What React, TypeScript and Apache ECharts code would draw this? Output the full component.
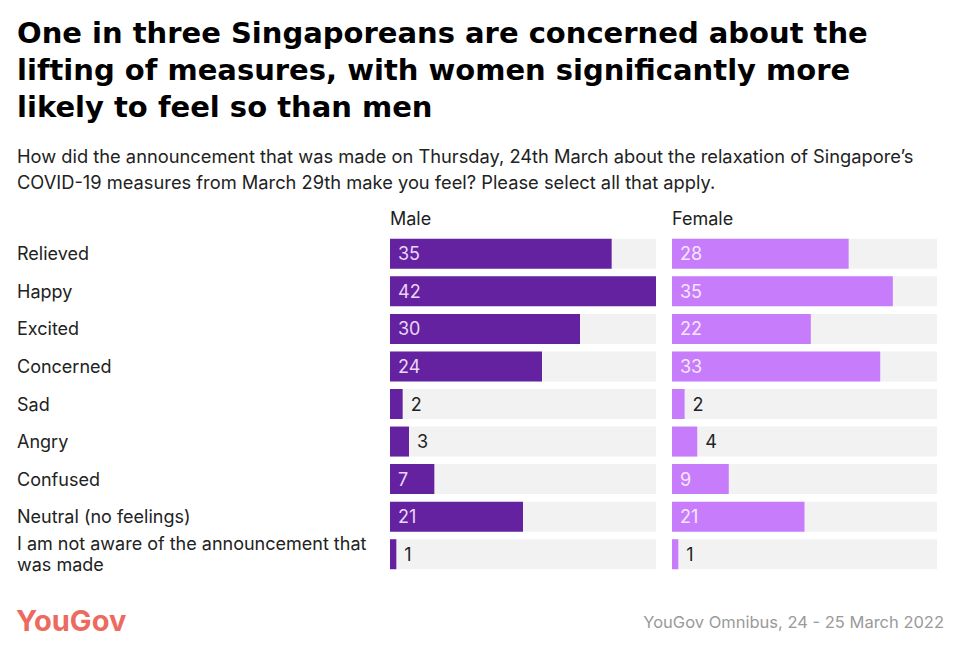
import React, { useEffect, useRef } from "react";
import * as echarts from "echarts";

const categories = [
  "Relieved",
  "Happy",
  "Excited",
  "Concerned",
  "Sad",
  "Angry",
  "Confused",
  "Neutral (no feelings)",
  "I am not aware of the announcement that was made",
];
const maleValues = [35, 42, 30, 24, 2, 3, 7, 21, 1];
const femaleValues = [28, 35, 22, 33, 2, 4, 9, 21, 1];
const panelTitles = ["Male", "Female"];

const FONT = "Inter, 'Open Sans', sans-serif";
const TITLE_FONT = "'DejaVu Sans', Inter, sans-serif";
const MALE = "#6522a0";
const FEMALE = "#c77dfb";

function buildData(values: number[], insideColor: string) {
  return values.map((v) => ({
    value: v,
    label:
      v < 5
        ? { position: "right", distance: 8, color: "#222" }
        : { position: "insideLeft", distance: 8, color: insideColor },
  }));
}

export default function App() {
  const ref = useRef<HTMLDivElement>(null);
  useEffect(() => {
    const chart = echarts.init(ref.current!, null, { renderer: "svg" });
    const gridTop = 227;
    const gridHeight = 338;
    chart.setOption({
      animation: false,
      backgroundColor: "#ffffff",
      title: [
        {
          text:
            "One in three Singaporeans are concerned about the\nlifting of measures, with women significantly more\nlikely to feel so than men",
          left: 9,
          top: 6,
          padding: 0,
          textStyle: {
            fontFamily: TITLE_FONT,
            fontSize: 29,
            fontWeight: 800,
            lineHeight: 37,
            color: "#000",
          },
        },
        {
          text:
            "How did the announcement that was made on Thursday, 24th March about the relaxation of Singapore’s\nCOVID-19 measures from March 29th make you feel? Please select all that apply.",
          left: 9,
          top: 135,
          padding: 0,
          textStyle: {
            fontFamily: FONT,
            fontSize: 18.3,
            fontWeight: 400,
            lineHeight: 26,
            color: "#222",
          },
        },
      ],
      graphic: [
        {
          type: "text",
          left: 382,
          top: 201,
          style: { text: panelTitles[0], font: `400 18px ${FONT}`, fill: "#222" },
        },
        {
          type: "text",
          left: 664,
          top: 201,
          style: { text: panelTitles[1], font: `400 18px ${FONT}`, fill: "#222" },
        },
        {
          type: "text",
          left: 8,
          top: 598,
          style: {
            text: "YouGov",
            font: `700 29px ${FONT}`,
            fill: "#ec6a60",
            letterSpacing: -1.5,
          },
        },
        {
          type: "text",
          right: 8,
          top: 605,
          style: {
            text: "YouGov Omnibus, 24 - 25 March 2022",
            font: `400 16.5px ${FONT}`,
            fill: "#9a9a9a",
          },
        },
      ],
      grid: [
        { left: 382, width: 266, top: gridTop, height: gridHeight },
        { left: 664, width: 265, top: gridTop, height: gridHeight },
      ],
      xAxis: [
        { type: "value", gridIndex: 0, min: 0, max: 42, show: false },
        { type: "value", gridIndex: 1, min: 0, max: 42, show: false },
      ],
      yAxis: [
        {
          type: "category",
          gridIndex: 0,
          data: categories,
          inverse: true,
          axisLine: { show: false },
          axisTick: { show: false },
          axisLabel: {
            align: "left",
            margin: 373,
            fontFamily: FONT,
            fontSize: 18,
            color: "#222",
            width: 365,
            overflow: "break",
            lineHeight: 21,
          },
        },
        {
          type: "category",
          gridIndex: 1,
          data: categories,
          inverse: true,
          axisLine: { show: false },
          axisTick: { show: false },
          axisLabel: { show: false },
        },
      ],
      series: [
        {
          type: "bar",
          xAxisIndex: 0,
          yAxisIndex: 0,
          barWidth: 30,
          data: buildData(maleValues, "#e9d6f7"),
          itemStyle: { color: MALE },
          showBackground: true,
          backgroundStyle: { color: "#f2f2f2" },
          label: { show: true, fontFamily: FONT, fontSize: 18 },
        },
        {
          type: "bar",
          xAxisIndex: 1,
          yAxisIndex: 1,
          barWidth: 30,
          data: buildData(femaleValues, "#f6e6fc"),
          itemStyle: { color: FEMALE },
          showBackground: true,
          backgroundStyle: { color: "#f2f2f2" },
          label: { show: true, fontFamily: FONT, fontSize: 18 },
        },
      ],
    });
    return () => chart.dispose();
  }, []);
  return <div ref={ref} style={{ width: 944, height: 637 }} />;
}
